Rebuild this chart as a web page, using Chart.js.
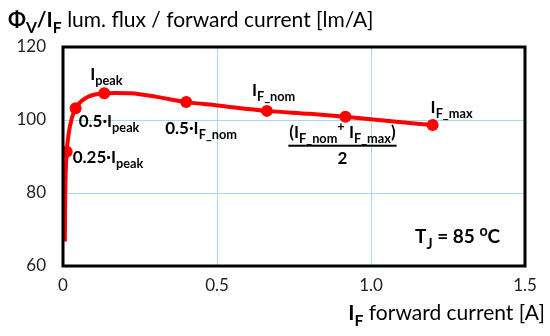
<!DOCTYPE html>
<html>
<head>
<meta charset="utf-8">
<script src="https://cdn.jsdelivr.net/npm/chart.js@4.4.1/dist/chart.umd.min.js"></script>
<style>
html,body{margin:0;padding:0;background:#fff;}
#wrap{width:550px;height:336px;position:relative;}
</style>
</head>
<body>
<div id="wrap"><canvas id="c" width="550" height="336"></canvas></div>
<script>
// ---- data ----
const curveX = [0.006, 0.007, 0.009, 0.012, 0.018, 0.028, 0.041, 0.06, 0.08, 0.10, 0.134, 0.17, 0.22, 0.30, 0.40, 0.50, 0.662, 0.80, 0.917, 1.05, 1.2];
const curveY = [66.7, 78, 86, 91.3, 96.0, 100.3, 103.2, 105.2, 106.3, 106.9, 107.3, 107.4, 107.3, 106.4, 104.9, 104.0, 102.5, 101.7, 100.9, 99.8, 98.6];
const markerX = [0.012, 0.041, 0.134, 0.40, 0.662, 0.917, 1.2];
const markerY = [91.3, 103.2, 107.3, 104.9, 102.5, 100.9, 98.6];
const xTicks = [0, 0.5, 1.0, 1.5];
const xTickLabels = ['0', '0.5', '1.0', '1.5'];
const yTicks = [60, 80, 100, 120];
const yTickLabels = ['60', '80', '100', '120'];

const FONT = 'Lato, "Open Sans", sans-serif';
const RED = '#ff0000';
const GRID = '#a9d6f0';

// rich text: segments [text, bold, mode] mode: 0 normal, 1 sub, 2 sup
function richWidth(ctx, segs, size) {
  let w = 0;
  for (const s of segs) {
    const sz = s[2] ? size * 0.75 : size;
    ctx.font = (s[1] ? 'bold ' : '') + sz + 'px ' + FONT;
    w += ctx.measureText(s[0]).width;
  }
  return w;
}
function drawRich(ctx, x, y, segs, size, align) {
  let w = richWidth(ctx, segs, size);
  let cx = align === 'right' ? x - w : (align === 'center' ? x - w / 2 : x);
  ctx.textBaseline = 'alphabetic';
  ctx.textAlign = 'left';
  for (const s of segs) {
    const sz = s[2] ? size * 0.75 : size;
    ctx.font = (s[1] ? 'bold ' : '') + sz + 'px ' + FONT;
    let dy = s[2] === 1 ? size * 0.3 : (s[2] === 2 ? -size * 0.38 : 0);
    ctx.fillText(s[0], cx, y + dy);
    cx += ctx.measureText(s[0]).width;
  }
  return w;
}

const annotations = [
  // index of marker, dx, dy (baseline offset), segments
  {i: 0, dx: 6, dy: 11, segs: [['0.25·I', 1, 0], ['peak', 1, 1]]},
  {i: 1, dx: 3, dy: 19, segs: [['0.5·I', 1, 0], ['peak', 1, 1]]},
  {i: 2, dx: -14, dy: -13, segs: [['I', 1, 0], ['peak', 1, 1]]},
  {i: 3, dx: -21, dy: 32, segs: [['0.5·I', 1, 0], ['F_nom', 1, 1]]},
  {i: 4, dx: -15, dy: -15, segs: [['I', 1, 0], ['F_nom', 1, 1]]},
  {i: 6, dx: -2, dy: -12, segs: [['I', 1, 0], ['F_max', 1, 1]]}
];

const labelsPlugin = {
  id: 'labels',
  afterDraw(chart) {
    const ctx = chart.ctx;
    const xs = chart.scales.x, ys = chart.scales.y;
    const a = chart.chartArea;
    ctx.save();
    ctx.fillStyle = '#000';
    // titles
    drawRich(ctx, 8, 27, [['Φ', 1, 0], ['V', 1, 1], ['/I', 1, 0], ['F', 1, 1], [' lum. flux / forward current [lm/A]', 0, 0]], 21, 'left');
    drawRich(ctx, 545, 320, [['I', 1, 0], ['F', 1, 1], [' forward current [A]', 0, 0]], 21, 'right');
    // point labels
    for (const an of annotations) {
      const px = xs.getPixelForValue(markerX[an.i]);
      const py = ys.getPixelForValue(markerY[an.i]);
      drawRich(ctx, px + an.dx, py + an.dy, an.segs, 17, 'left');
    }
    // fraction label for the midpoint
    const mx = xs.getPixelForValue(markerX[5]);
    const my = ys.getPixelForValue(markerY[5]);
    const fx = mx - 3, fy = my + 21;
    const w = drawRich(ctx, fx, fy, [['(I', 1, 0], ['F_nom', 1, 1], ['+', 1, 2], [' I', 1, 0], ['F_max', 1, 1], [')', 1, 0]], 17, 'center');
    ctx.fillRect(fx - w / 2 - 1, fy + 7, w + 2, 2);
    drawRich(ctx, fx, fy + 26, [['2', 1, 0]], 17, 'center');
    // T_J
    drawRich(ctx, a.right - 110, a.bottom - 23, [['T', 1, 0], ['J', 1, 1], [' = 85 ', 1, 0], ['o', 1, 2], ['C', 1, 0]], 19, 'left');
    // frame
    ctx.strokeStyle = '#000';
    ctx.lineWidth = 3;
    ctx.strokeRect(a.left, a.top, a.right - a.left, a.bottom - a.top);
    ctx.restore();
  }
};

new Chart(document.getElementById('c'), {
  type: 'scatter',
  data: {
    datasets: [
      {
        data: markerX.map((x, k) => ({x: x, y: markerY[k]})),
        showLine: false,
        pointRadius: 6,
        pointBackgroundColor: RED,
        pointBorderColor: RED,
        pointBorderWidth: 0,
        order: 0
      },
      {
        data: curveX.map((x, k) => ({x: x, y: curveY[k]})),
        showLine: true,
        borderColor: RED,
        borderWidth: 4,
        pointRadius: 0,
        cubicInterpolationMode: 'monotone',
        fill: false,
        order: 1
      }
    ]
  },
  options: {
    responsive: false,
    animation: false,
    events: [],
    layout: {padding: {top: 47, right: 25, left: 0, bottom: 0}},
    plugins: {legend: {display: false}, tooltip: {enabled: false}},
    scales: {
      x: {
        type: 'linear', min: 0, max: 1.5,
        afterBuildTicks: s => { s.ticks = xTicks.map(v => ({value: v})); },
        afterFit: s => { s.height = 70; },
        border: {display: false},
        grid: {drawTicks: false, color: c => (c.tick && (c.tick.value === 0.5 || c.tick.value === 1)) ? GRID : 'rgba(0,0,0,0)', lineWidth: 1},
        ticks: {padding: 9, color: '#222', font: {family: FONT, size: 17}, maxRotation: 0,
          callback: (v) => { const k = xTicks.indexOf(v); return k >= 0 ? xTickLabels[k] : ''; }}
      },
      y: {
        type: 'linear', min: 60, max: 120,
        afterBuildTicks: s => { s.ticks = yTicks.map(v => ({value: v})); },
        afterFit: s => { s.width = 63; },
        border: {display: false},
        grid: {drawTicks: false, color: c => (c.tick && (c.tick.value === 80 || c.tick.value === 100)) ? GRID : 'rgba(0,0,0,0)', lineWidth: 1},
        ticks: {padding: 17, color: '#222', font: {family: FONT, size: 17},
          callback: (v) => { const k = yTicks.indexOf(v); return k >= 0 ? yTickLabels[k] : ''; }}
      }
    }
  },
  plugins: [labelsPlugin]
});
</script>
</body>
</html>
